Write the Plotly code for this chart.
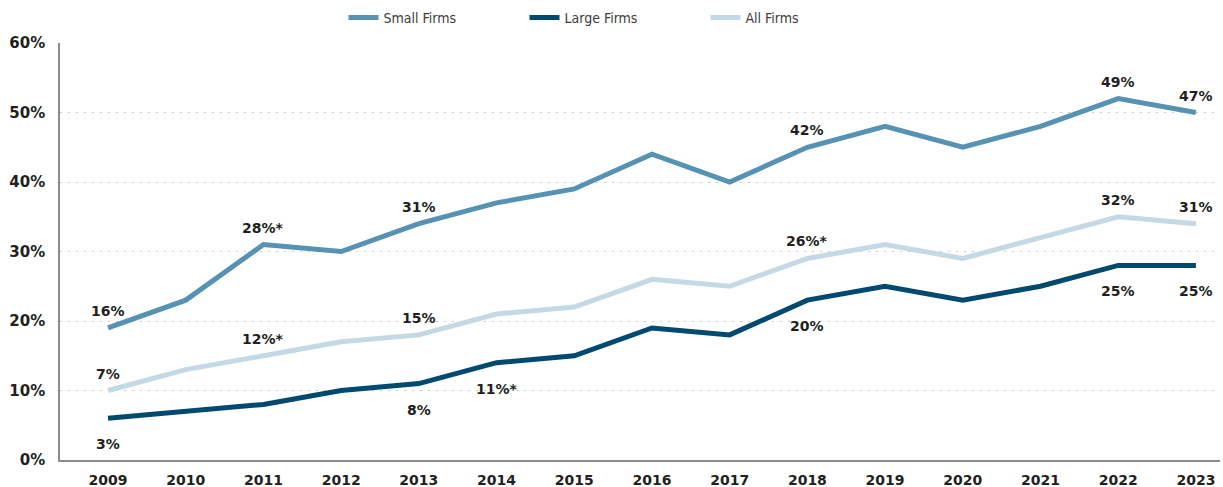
import plotly.graph_objects as go

years = [2009, 2010, 2011, 2012, 2013, 2014, 2015, 2016, 2017, 2018, 2019, 2020, 2021, 2022, 2023]
small_firms = [19, 23, 31, 30, 34, 37, 39, 44, 40, 45, 48, 45, 48, 52, 50]
large_firms = [6, 7, 8, 10, 11, 14, 15, 19, 18, 23, 25, 23, 25, 28, 28]
all_firms = [10, 13, 15, 17, 18, 21, 22, 26, 25, 29, 31, 29, 32, 35, 34]

small_labels = ["16%", None, "28%*", None, "31%", None, None, None, None, "42%", None, None, None, "49%", "47%"]
large_labels = ["3%", None, None, None, "8%", "11%*", None, None, None, "20%", None, None, None, "25%", "25%"]
all_labels = ["7%", None, "12%*", None, "15%", None, None, None, None, "26%*", None, None, None, "32%", "31%"]

y_ticks = [0, 10, 20, 30, 40, 50, 60]
y_tick_text = ["0%", "10%", "20%", "30%", "40%", "50%", "60%"]

series = [
    ("Small Firms", small_firms, small_labels, "#5692b4", 17),
    ("Large Firms", large_firms, large_labels, "#004a70", -26),
    ("All Firms", all_firms, all_labels, "#c4d9e6", 17),
]

fig = go.Figure()
annotations = []
for name, vals, labels, color, shift in series:
    fig.add_trace(go.Scatter(
        x=years, y=vals, name=name, mode="lines",
        line=dict(color=color, width=5),
        hoverinfo="skip",
    ))
    for yr, v, lab in zip(years, vals, labels):
        if lab:
            annotations.append(dict(
                x=yr, y=v, xref="x", yref="y", text=lab, showarrow=False,
                yshift=shift, font=dict(family="DejaVu Sans", size=14, color="#231f20", weight="bold"),
            ))

fig.update_layout(
    width=1223, height=487,
    margin=dict(l=60, r=3, t=43, b=27, autoexpand=False),
    paper_bgcolor="white", plot_bgcolor="white",
    showlegend=True,
    legend=dict(
        orientation="h", x=0.2444, y=1.06, xanchor="left", yanchor="middle",
        font=dict(family="Liberation Sans Narrow, DejaVu Sans Condensed, sans-serif", size=14, color="#3c3c3c"),
        entrywidth=136, entrywidthmode="pixels", itemwidth=30,
        bgcolor="rgba(0,0,0,0)",
    ),
    annotations=annotations,
    xaxis=dict(
        range=[2008.382, 2023.31], tickmode="array", tickvals=years,
        ticktext=[str(y) for y in years],
        showgrid=False, zeroline=False, automargin=False,
        showline=True, linecolor="#8c8c8c", linewidth=1.5,
        ticks="", ticklabelstandoff=6,
        tickfont=dict(family="DejaVu Sans", size=14, color="#231f20", weight="bold"),
    ),
    yaxis=dict(
        range=[0, 60], tickmode="array", tickvals=y_ticks, ticktext=y_tick_text,
        showgrid=True, gridcolor="#c8c8c8", gridwidth=1, griddash="2px,6px",
        zeroline=False, showline=True, linecolor="#8c8c8c", linewidth=1.5,
        ticks="", ticklabelstandoff=10, automargin=False,
        tickfont=dict(family="DejaVu Sans", size=15, color="#231f20", weight="bold"),
    ),
)

fig.write_html("out.html", config={"displayModeBar": False},
               post_script="document.body.style.margin='0';")
